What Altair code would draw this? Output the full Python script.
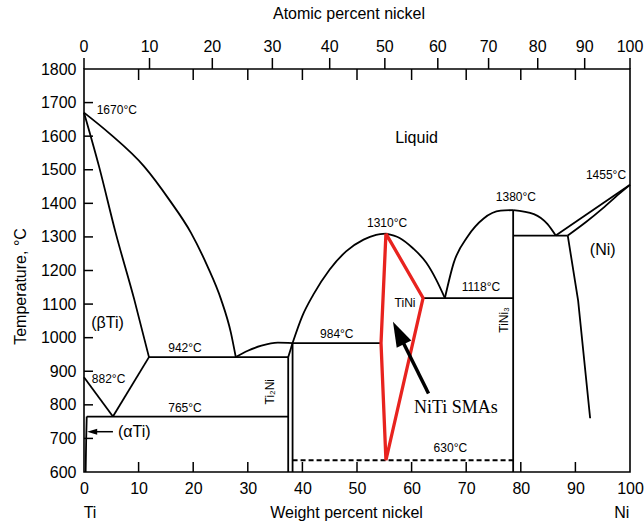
import altair as alt
import pandas as pd

# ---------------- data (weight % Ni, temperature in °C) ----------------
liquidus_ti = [(0, 1670), (4.6, 1609), (11.0, 1510), (15.6, 1411), (19.6, 1312),
               (22.6, 1213), (25.1, 1114), (26.9, 1015), (27.8, 942)]
solidus_ti = [(0, 1670), (2.75, 1510), (5.8, 1312), (9.2, 1114), (11.9, 942)]
eutectic_942 = [(11.9, 942), (37.4, 942)]
transus_left = [(0, 882), (5.3, 765)]
transus_right = [(5.3, 765), (11.9, 942)]
eutectoid_765 = [(0.5, 765), (37.4, 765)]
alpha_solvus = [(0.5, 765), (0.4, 700), (0.3, 600)]
liquidus_ti2ni = [(27.8, 942), (30.0, 961), (32.5, 976), (35.5, 985), (38.2, 984)]
ti2ni_left = [(37.4, 942), (37.4, 600)]
ti2ni_right = [(38.2, 984), (38.2, 600)]
ti2ni_top = [(37.4, 942), (38.2, 984)]
peritectic_984 = [(38.2, 984), (54.4, 984)]
liquidus_tini_left = [(38.2, 984), (40.0, 1065), (42.0, 1128), (45.0, 1203), (48.0, 1257),
                      (51.2, 1292), (53.5, 1306), (55.3, 1310)]
liquidus_tini_right = [(55.3, 1310), (57.8, 1297), (60.2, 1267), (62.7, 1223),
                       (64.5, 1173), (66.1, 1118)]
eutectic_1118 = [(62.1, 1118), (78.6, 1118)]
liquidus_tini3_left = [(66.1, 1118), (67.7, 1222), (70.3, 1302), (73.2, 1355),
                       (76.3, 1378), (78.6, 1380)]
liquidus_tini3_right = [(78.6, 1380), (82.4, 1368), (84.9, 1338), (86.4, 1304)]
tini3_line = [(78.6, 1380), (78.6, 600)]
eutectic_1304 = [(78.6, 1304), (88.6, 1304)]
liquidus_ni = [(86.4, 1304), (100, 1455)]
solidus_ni = [(88.6, 1304), (92.0, 1345), (95.0, 1385), (98.0, 1428), (100, 1455)]
solvus_ni = [(88.6, 1304), (90.5, 1110), (92.7, 760)]

dashed_630 = [(38.2, 635), (78.6, 635)]
tini_region = [(55.3, 1310), (62.1, 1118), (55.3, 635), (54.4, 984), (55.3, 1310)]

smas_arrow_line = [(63.1, 834), (57.6, 1014)]
smas_arrow_head = [(57.6, 1014)]
alpha_arrow_line = [(5.3, 720), (1.5, 720)]
alpha_arrow_head = [(1.5, 720)]

temp_ticks = [700, 800, 900, 1000, 1100, 1200, 1300, 1400, 1500, 1600, 1700]
wt_ticks = [10, 20, 30, 40, 50, 60, 70, 80, 90]
wt_labels = [0, 10, 20, 30, 40, 50, 60, 70, 80, 90, 100]
temp_labels = [600, 700, 800, 900, 1000, 1100, 1200, 1300, 1400, 1500, 1600, 1700, 1800]
atomic_labels = ["0", "10", "20", "30", "40", "50", "60", "70", "80", "90", "100"]
atomic_pos_wt = [0, 12.0, 23.5, 34.5, 45.0, 55.1, 64.8, 74.1, 83.1, 91.7, 100]

label_text = ["1670°C", "882°C", "942°C", "765°C", "984°C", "1310°C", "TiNi",
              "1118°C", "1380°C", "1455°C", "630°C"]
label_x = [6.0, 4.5, 18.5, 18.5, 46.3, 55.5, 58.8, 72.7, 79.1, 95.6, 67.1]
label_T = [1678, 877, 969, 790, 1011, 1342, 1104, 1151, 1419, 1484, 671]

big_text = ["(βTi)", "(αTi)", "(Ni)", "Liquid"]
big_x = [4.3, 9.2, 95.0, 60.9]
big_T = [1043, 720, 1261, 1595]

rot_text = ["Ti₂Ni", "TiNi₃"]
rot_x = [34.1, 76.9]
rot_T = [839, 1053]

end_text = ["Ti", "Ni"]
end_x = [1.1, 98.5]

smas_text = ["NiTi SMAs"]
smas_x = [68.1]
smas_T = [790]

# ---------------- tables ----------------
straight_segments = [eutectic_942, transus_left, transus_right, eutectoid_765, alpha_solvus,
                     ti2ni_left, ti2ni_right, ti2ni_top, peritectic_984, eutectic_1118,
                     tini3_line, eutectic_1304, liquidus_ni, solvus_ni]
curved_segments = [liquidus_ti, solidus_ti, liquidus_ti2ni, liquidus_tini_left,
                   liquidus_tini_right, liquidus_tini3_left, liquidus_tini3_right, solidus_ni]


def pts_df(pts, seg=0):
    return pd.DataFrame({"seg": seg, "i": list(range(len(pts))),
                         "x": [p[0] for p in pts], "T": [p[1] for p in pts]})


straight_df = pd.concat([pts_df(s, k) for k, s in enumerate(straight_segments)], ignore_index=True)
curved_df = pd.concat([pts_df(s, k) for k, s in enumerate(curved_segments)], ignore_index=True)

W, H = 546, 403
FONT = "Liberation Sans"
xs = alt.Scale(domain=[0, 100], nice=False, zero=False)
ys = alt.Scale(domain=[600, 1800], nice=False, zero=False)

x_axis = alt.Axis(values=wt_labels, format="d", ticks=False, domain=False, grid=False,
                  labelFlush=False, labelFont=FONT, labelFontSize=16, labelColor="black",
                  labelPadding=8,
                  title="Weight percent nickel", titleFont=FONT, titleFontSize=16,
                  titleFontWeight="normal", titleColor="black", titleX=262, titleY=40,
                  titleBaseline="middle")
y_axis = alt.Axis(values=temp_labels, format="d", ticks=False, domain=False, grid=False,
                  labelFlush=False, labelFont=FONT, labelFontSize=16, labelColor="black",
                  labelPadding=8,
                  title="Temperature, °C", titleFont=FONT, titleFontSize=16,
                  titleFontWeight="normal", titleColor="black", titleX=-64, titleY=217,
                  titleBaseline="middle")


def X():
    return alt.X("x:Q", scale=xs, axis=x_axis)


def Y():
    return alt.Y("T:Q", scale=ys, axis=y_axis)


lines = alt.Chart(straight_df).mark_line(color="black", strokeWidth=1.8).encode(
    x=X(), y=Y(), detail="seg:N", order="i:Q")
curves = alt.Chart(curved_df).mark_line(
    color="black", strokeWidth=1.8, interpolate="monotone").encode(
    x=X(), y=Y(), detail="seg:N", order="i:Q")

dashed = alt.Chart(pts_df(dashed_630)).mark_line(
    color="black", strokeWidth=2, strokeDash=[5, 3]).encode(x=X(), y=Y(), order="i:Q")

red = alt.Chart(pts_df(tini_region)).mark_line(
    color="#e8231f", strokeWidth=3.3, strokeJoin="miter").encode(x=X(), y=Y(), order="i:Q")

arrow_line = alt.Chart(pts_df(smas_arrow_line)).mark_line(
    color="black", strokeWidth=3.5).encode(x=X(), y=Y(), order="i:Q")
arrow_head = alt.Chart(pts_df(smas_arrow_head)).mark_point(
    shape="M0,-1L-0.65,1L0.65,1Z", size=625, angle=333.8, filled=True,
    color="black", opacity=1).encode(x=X(), y=Y())

alpha_line = alt.Chart(pts_df(alpha_arrow_line)).mark_line(
    color="black", strokeWidth=1.5).encode(x=X(), y=Y(), order="i:Q")
alpha_head = alt.Chart(pts_df(alpha_arrow_head)).mark_point(
    shape="M-1,0L1,-0.6L1,0.6Z", size=100, filled=True, color="black",
    opacity=1).encode(x=X(), y=Y())

left_ticks = alt.Chart(pd.DataFrame({"T": temp_ticks})).mark_rule(
    color="black", strokeWidth=1.5).encode(y=Y(), x=alt.value(0), x2=alt.value(9))
bottom_ticks = alt.Chart(pd.DataFrame({"x": wt_ticks})).mark_rule(
    color="black", strokeWidth=1.5).encode(x=X(), y=alt.value(H), y2=alt.value(H - 10))
top_in_ticks = alt.Chart(pd.DataFrame({"x": wt_ticks})).mark_rule(
    color="black", strokeWidth=1.5).encode(x=X(), y=alt.value(0), y2=alt.value(11))
top_out_ticks = alt.Chart(pd.DataFrame({"x": atomic_pos_wt})).mark_rule(
    color="black", strokeWidth=1.5).encode(x=X(), y=alt.value(0), y2=alt.value(-11))

top_labels = alt.Chart(pd.DataFrame({"x": atomic_pos_wt, "t": atomic_labels})).mark_text(
    font=FONT, fontSize=16, color="black", baseline="middle").encode(
    x=X(), y=alt.value(-22), text="t:N")
top_title = alt.Chart(pd.DataFrame({"t": ["Atomic percent nickel"]})).mark_text(
    font=FONT, fontSize=16, color="black", baseline="middle").encode(
    x=alt.value(265), y=alt.value(-55), text="t:N")
end_labels = alt.Chart(pd.DataFrame({"x": end_x, "t": end_text})).mark_text(
    font=FONT, fontSize=16, color="black", baseline="middle").encode(
    x=X(), y=alt.value(H + 41), text="t:N")

small_labels = alt.Chart(pd.DataFrame({"x": label_x, "T": label_T, "t": label_text})).mark_text(
    font=FONT, fontSize=12, color="black", baseline="middle").encode(x=X(), y=Y(), text="t:N")
big_labels = alt.Chart(pd.DataFrame({"x": big_x, "T": big_T, "t": big_text})).mark_text(
    font=FONT, fontSize=16, color="black", baseline="middle").encode(x=X(), y=Y(), text="t:N")
rot_labels = alt.Chart(pd.DataFrame({"x": rot_x, "T": rot_T, "t": rot_text})).mark_text(
    font=FONT, fontSize=12, color="black", baseline="middle", angle=270).encode(
    x=X(), y=Y(), text="t:N")
smas_label = alt.Chart(pd.DataFrame({"x": smas_x, "T": smas_T, "t": smas_text})).mark_text(
    font="Liberation Serif", fontSize=18, color="black", baseline="middle").encode(
    x=X(), y=Y(), text="t:N")

chart = alt.layer(
    lines, curves, dashed, red, arrow_line, arrow_head, alpha_line, alpha_head,
    left_ticks, bottom_ticks, top_in_ticks, top_out_ticks,
    top_labels, top_title, end_labels, small_labels, big_labels, rot_labels, smas_label
).properties(
    width=W, height=H,
    autosize=alt.AutoSizeParams(type="none"),
    padding={"left": 84, "top": 69, "right": 14, "bottom": 50},
    background="white",
).configure_view(stroke="black", strokeWidth=1.6)

chart.save("out.html", embed_options={"renderer": "svg", "actions": False})
